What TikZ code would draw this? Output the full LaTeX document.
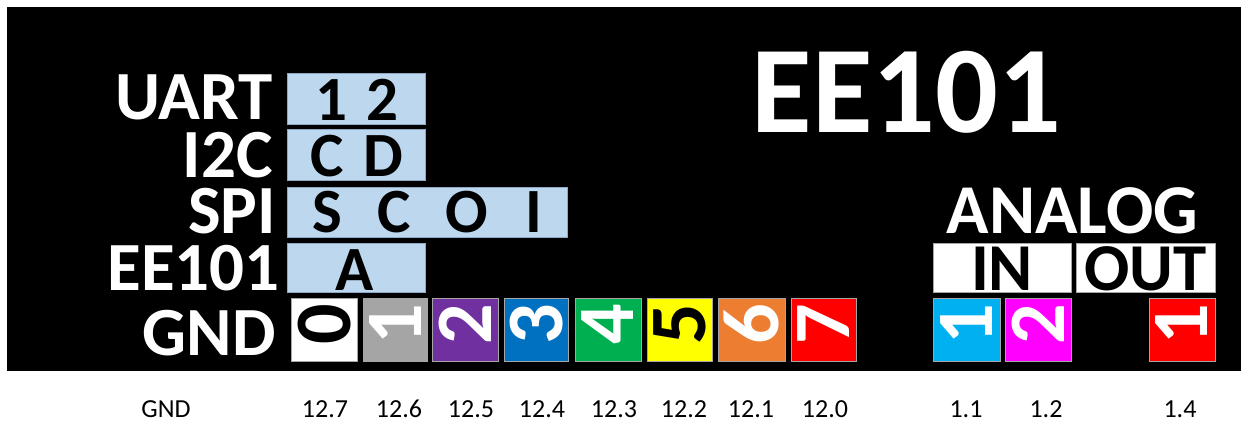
\documentclass[tikz,border=0pt]{standalone}
\usepackage{fontspec}
\setmainfont{Carlito}
\definecolor{boxblue}{HTML}{BDD7EE}
\definecolor{boxedge}{HTML}{8EA9C8}
\definecolor{pgray}{HTML}{A5A5A5}
\definecolor{ppurple}{HTML}{7030A0}
\definecolor{pblue}{HTML}{0070C0}
\definecolor{pgreen}{HTML}{00B050}
\definecolor{pyellow}{HTML}{FFFF00}
\definecolor{porange}{HTML}{ED7D31}
\definecolor{pred}{HTML}{FF0000}
\definecolor{pcyan}{HTML}{00B0F0}
\definecolor{pmagenta}{HTML}{FF00FF}
\begin{document}
\begin{tikzpicture}[x=1pt,y=-1pt,
  lbl/.style={text=white,font=\fontsize{69}{72}\selectfont\bfseries,anchor=base east,inner sep=0},
  bbox/.style={fill=boxblue,draw=boxedge,line width=1pt},
  btxt/.style={text=black,font=\fontsize{63}{70}\selectfont\bfseries,anchor=base,inner sep=0},
  pinbox/.style={draw=black!35,line width=0.8pt},
  dig/.style={rotate=90,font=\fontsize{80}{84}\selectfont\bfseries,inner sep=0},
  ana/.style={text=black,font=\fontsize{67}{70}\selectfont\bfseries,anchor=base,inner sep=0},
  foot/.style={text=black,font=\fontsize{26}{30}\selectfont,anchor=base,inner sep=0}
]
\useasboundingbox (0,0) rectangle (1248,428);
\fill[white] (0,0) rectangle (1248,428);
\fill[black] (7,7) rectangle (1241,370.5);

% title
\node[text=white,font=\fontsize{124}{130}\selectfont\bfseries,anchor=base,inner sep=0] (title) at (906.5,132) {EE101};

% row labels
\node[lbl] (luart) at (273,119) {UART};
\node[lbl] (li2c) at (273,177) {I2C};
\node[lbl] (lspi) at (276,233) {SPI};
\node[lbl] (lee) at (280,290) {EE101};
\node[lbl] (lgnd) at (276,355) {GND};

% blue boxes
\draw[bbox] (287,73.5) rectangle (425,124);
\draw[bbox] (287,129.5) rectangle (425,180.5);
\draw[bbox] (287,187.5) rectangle (567,237);
\draw[bbox] (287,243) rectangle (425,292.5);

\node[btxt] (u1) at (331,120) {1};
\node[btxt] (u2) at (382,120) {2};
\node[btxt] (ic) at (327,176.5) {C};
\node[btxt] (id) at (383.5,176.5) {D};
\node[btxt] (ss) at (327,232.5) {S};
\node[btxt] (sc) at (394,232.5) {C};
\node[btxt] (so) at (467,232.5) {O};
\node[btxt] (si) at (534,232.5) {I};
\node[btxt] (ea) at (355,290) {A};

% pin squares
\draw[pinbox,fill=white] (291,298.5) rectangle (357.5,361);
\draw[pinbox,fill=pgray] (363.3,298.5) rectangle (427,361);
\draw[pinbox,fill=ppurple] (432.3,298.5) rectangle (498,361);
\draw[pinbox,fill=pblue] (504,298.5) rectangle (568.3,361);
\draw[pinbox,fill=pgreen] (575,298.5) rectangle (641,361);
\draw[pinbox,fill=pyellow] (647.3,298.5) rectangle (712.3,361);
\draw[pinbox,fill=porange] (718.3,298.5) rectangle (785,361);
\draw[pinbox,fill=pred] (791,298.5) rectangle (856,361);
\draw[pinbox,fill=pcyan] (933,298.5) rectangle (1000,361);
\draw[pinbox,fill=pmagenta] (1005.7,298.5) rectangle (1071,361);
\draw[pinbox,fill=pred] (1149,298.5) rectangle (1215,361);

\node[dig,text=black] (d0) at (324.2,324.5) {0};
\node[dig,text=white] (d1) at (395.2,324.5) {1};
\node[dig,text=white] (d2) at (465.2,324.5) {2};
\node[dig,text=white] (d3) at (536.2,324.5) {3};
\node[dig,text=white] (d4) at (608,324.5) {4};
\node[dig,text=black] (d5) at (679.8,324.5) {5};
\node[dig,text=white] (d6) at (751.7,324.5) {6};
\node[dig,text=white] (d7) at (823.5,324.5) {7};
\node[dig,text=white] (a1) at (966.5,324.5) {1};
\node[dig,text=white] (a2) at (1038.4,324.5) {2};
\node[dig,text=white] (o1) at (1182,324.5) {1};

% analog
\node[text=white,font=\fontsize{70}{74}\selectfont\bfseries,anchor=base,inner sep=0] (analog) at (1072.5,233) {ANALOG};
\draw[fill=white,draw=black!35,line width=0.8pt] (933,243) rectangle (1071,292.5);
\draw[fill=white,draw=black!35,line width=0.8pt] (1076,243) rectangle (1215,292.5);
\node[ana] (in) at (1002,290) {IN};
\node[ana] (out) at (1145.5,290) {OUT};

% footer
\node[foot] (fgnd) at (166,417) {GND};
\node[foot] (f127) at (325,417) {12.7};
\node[foot] (f126) at (399,417) {12.6};
\node[foot] (f125) at (471,417) {12.5};
\node[foot] (f124) at (542,417) {12.4};
\node[foot] (f123) at (614,417) {12.3};
\node[foot] (f122) at (684,417) {12.2};
\node[foot] (f121) at (751,417) {12.1};
\node[foot] (f120) at (825,417) {12.0};
\node[foot] (f11) at (966,417) {1.1};
\node[foot] (f12) at (1046,417) {1.2};
\node[foot] (f14) at (1180,417) {1.4};
\end{tikzpicture}
\end{document}
